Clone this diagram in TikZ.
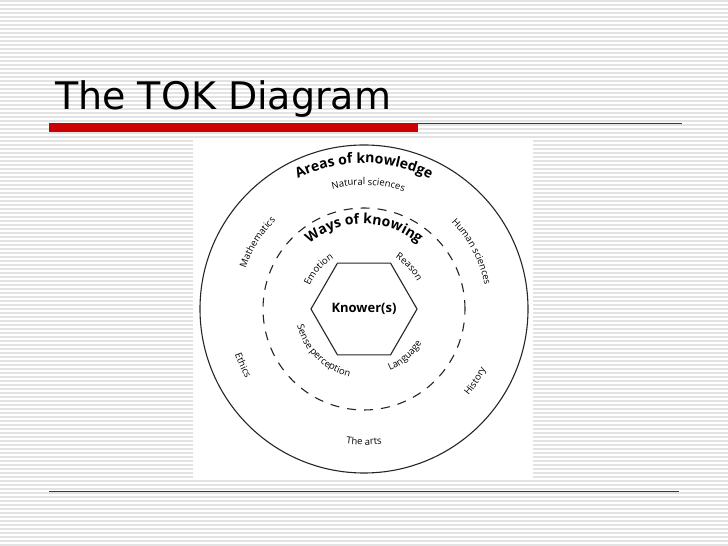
\documentclass[tikz,border=0pt]{standalone}
\usepackage{fontspec}
\usepackage{tikz}
\usetikzlibrary{shapes.geometric}
\usetikzlibrary{decorations.text}

\newfontfamily\titlefont{DejaVu Sans}
\newfontfamily\diafont{Open Sans}
\newcommand{\tokbold}{\diafont\bfseries\fontsize{14}{14}\selectfont}
\newcommand{\toksmall}{\diafont\fontsize{9.5}{9.5}\selectfont}

\begin{document}
\begin{tikzpicture}[x=1pt, y=1pt,
    stripe/.style = {draw=gray!22, line width=1.6pt},
    rule/.style = {draw={rgb,255:red,140;green,20;blue,20}, line width=1.2pt},
    ring/.style = {draw=black!85, line width=1.1pt},
    wayring/.style = {ring, dash pattern=on 9pt off 8pt},
    knowerbox/.style = {regular polygon, regular polygon sides=6,
                   minimum size=90pt, inner sep=0pt, draw=black!85,
                   line width=1.1pt, font=\diafont\bfseries\fontsize{13}{13}\selectfont},
    bigtext/.style = {decorate, decoration={text along path, text align=center,
                   text={|\tokbold|#1}}},
    smalltext/.style = {decorate, decoration={text along path, text align=center,
                   text={|\toksmall|#1}}}]
  \useasboundingbox (0,0) rectangle (728,546);
  \fill[white] (0,0) rectangle (728,546);
  \foreach \k in {0,...,136}
    \draw[stripe] (0,545.2-4*\k) -- (728,545.2-4*\k);

  % title and rules
  \node (title) [anchor=base west, inner sep=0pt,
        font=\titlefont\fontsize{38}{38}\selectfont] at (55,436) {The TOK Diagram};
  \fill[fill={rgb,255:red,204;green,0;blue,0}] (49,414) rectangle (418,423);
  \coordinate (ta) at (418,422.5);
  \coordinate (tb) at (682,422.5);
  \draw[rule] (ta) -- (tb);
  \coordinate (ba) at (49,54.5);
  \coordinate (bb) at (679,54.5);
  \draw[rule] (ba) -- (bb);

  % picture area
  \fill[white] (193,67) rectangle (533,408);
  \coordinate (ctr) at (364,237);
  \draw[ring] (ctr) circle[radius=164];
  \draw[wayring] (ctr) circle[radius=101];
  \node (knower) [knowerbox] at (ctr) {Knower(s)};

  % areas of knowledge
  \path[bigtext={Areas of knowledge}]
    ([shift={(170:146)}]ctr) arc[start angle=170, end angle=10, radius=146];
  \path[smalltext={Natural sciences}]
    ([shift={(168:124)}]ctr) arc[start angle=168, end angle=8, radius=124];
  \path[smalltext={Mathematics}]
    ([shift={(228:125)}]ctr) arc[start angle=228, end angle=68, radius=125];
  \path[smalltext={Human sciences}]
    ([shift={(108:123)}]ctr) arc[start angle=108, end angle=-52, radius=123];
  \path[smalltext={Ethics}]
    ([shift={(125:137)}]ctr) arc[start angle=125, end angle=285, radius=137];
  \path[smalltext={History}]
    ([shift={(247:136)}]ctr) arc[start angle=247, end angle=407, radius=136];
  \path[smalltext={The arts}]
    ([shift={(190:136)}]ctr) arc[start angle=190, end angle=350, radius=136];

  % ways of knowing
  \path[bigtext={Ways of knowing}]
    ([shift={(170:85)}]ctr) arc[start angle=170, end angle=10, radius=85];
  \path[smalltext={Emotion}]
    ([shift={(219:59)}]ctr) arc[start angle=219, end angle=59, radius=59];
  \path[smalltext={Reason}]
    ([shift={(123:60)}]ctr) arc[start angle=123, end angle=-37, radius=60];
  \path[smalltext={Sense perception}]
    ([shift={(146:69)}]ctr) arc[start angle=146, end angle=306, radius=69];
  \path[smalltext={Language}]
    ([shift={(231:67)}]ctr) arc[start angle=231, end angle=391, radius=67];
\end{tikzpicture}
\end{document}
